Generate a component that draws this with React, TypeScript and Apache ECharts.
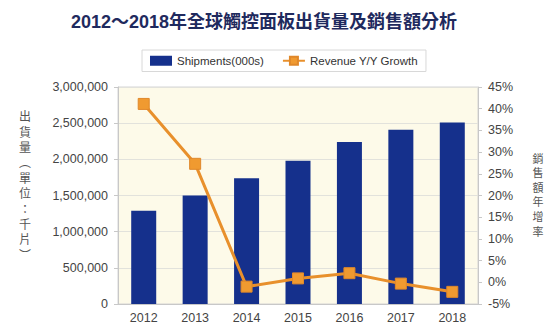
import React, { useEffect, useRef } from "react";
import * as echarts from "echarts";

const categories = ["2012", "2013", "2014", "2015", "2016", "2017", "2018"];
const shipments = [1290000, 1500000, 1740000, 1980000, 2240000, 2410000, 2510000];
const revenueGrowth = [41.1, 27.3, -1.0, 0.9, 2.1, -0.3, -2.2];
const titleText = "2012～2018年全球觸控面板出貨量及銷售額分析";
const leftName = ["出", "貨", "量", "︵", "單", "位", "：", "千", "片", "︶"];
const rightName = ["銷", "售", "額", "年", "增", "率"];

function verticalText(chars: string[], cx: number, cy: number, step: number, size: number) {
  const start = cy - ((chars.length - 1) * step) / 2;
  return chars.map((c, i) => ({
    type: "text",
    x: cx,
    y: start + i * step,
    style: {
      text: c,
      fontSize: size,
      fill: "#555",
      align: "center",
      verticalAlign: "middle",
      fontFamily: "'Noto Sans CJK TC', sans-serif",
    },
  }));
}

export default function App() {
  const ref = useRef<HTMLDivElement>(null);
  useEffect(() => {
    if (!ref.current) return;
    document.body.style.margin = "0";
    const chart = echarts.init(ref.current, undefined, { renderer: "svg" });
    const font = "Arial, 'Liberation Sans', 'Noto Sans CJK TC', sans-serif";
    chart.setOption({
      animation: false,
      backgroundColor: "#ffffff",
      textStyle: { fontFamily: font },
      title: {
        text: titleText,
        left: 66,
        top: 8,
        textStyle: {
          fontSize: 18,
          fontWeight: "bold",
          color: "#1f2a5e",
          fontFamily: "'Liberation Sans', 'Noto Sans CJK TC', sans-serif",
        },
      },
      legend: {
        left: 142,
        top: 50,
        padding: [5, 8, 5, 8],
        borderColor: "#d8d8d8",
        borderWidth: 1,
        backgroundColor: "#ffffff",
        itemGap: 18,
        itemWidth: 22,
        itemHeight: 10,
        textStyle: { fontSize: 11.5, color: "#333", fontFamily: font },
        data: [
          { name: "Shipments(000s)", icon: "rect" },
          { name: "Revenue Y/Y Growth" },
        ],
      },
      grid: {
        left: 118,
        right: 82,
        top: 87,
        bottom: 30,
        show: true,
        backgroundColor: "#fdfae9",
        borderColor: "#d4d4d4",
        borderWidth: 1,
      },
      xAxis: {
        type: "category",
        data: categories,
        axisLine: { lineStyle: { color: "#c8c8c8" } },
        axisTick: { show: false },
        axisLabel: { fontSize: 12.5, color: "#444", margin: 8 },
      },
      yAxis: [
        {
          type: "value",
          min: 0,
          max: 3000000,
          interval: 500000,
          axisLine: { show: true, lineStyle: { color: "#c8c8c8" } },
          axisTick: { show: true, length: 4, lineStyle: { color: "#c8c8c8" } },
          splitLine: { lineStyle: { color: "#e2e2dc" } },
          axisLabel: {
            fontSize: 12.5,
            color: "#444",
            margin: 10,
            formatter: (v: number) => v.toLocaleString("en-US"),
          },
        },
        {
          type: "value",
          min: -5,
          max: 45,
          interval: 5,
          axisLine: { show: true, lineStyle: { color: "#c8c8c8" } },
          axisTick: { show: true, length: 4, lineStyle: { color: "#c8c8c8" } },
          splitLine: { show: false },
          axisLabel: { fontSize: 12.5, color: "#444", margin: 10, formatter: "{value}%" },
        },
      ],
      series: [
        {
          name: "Shipments(000s)",
          type: "bar",
          data: shipments,
          barWidth: 25,
          itemStyle: { color: "#15308c" },
        },
        {
          name: "Revenue Y/Y Growth",
          type: "line",
          yAxisIndex: 1,
          data: revenueGrowth,
          symbol: "rect",
          symbolSize: 11,
          lineStyle: { color: "#e8902c", width: 3 },
          itemStyle: { color: "#f09a30", borderColor: "#e0882a", borderWidth: 1 },
        },
      ],
      graphic: [
        ...verticalText(leftName, 25, 185, 15.4, 12),
        ...verticalText(rightName, 538, 194, 14.6, 11),
      ],
    });
    return () => chart.dispose();
  }, []);
  return <div ref={ref} style={{ width: 560, height: 334 }} />;
}
